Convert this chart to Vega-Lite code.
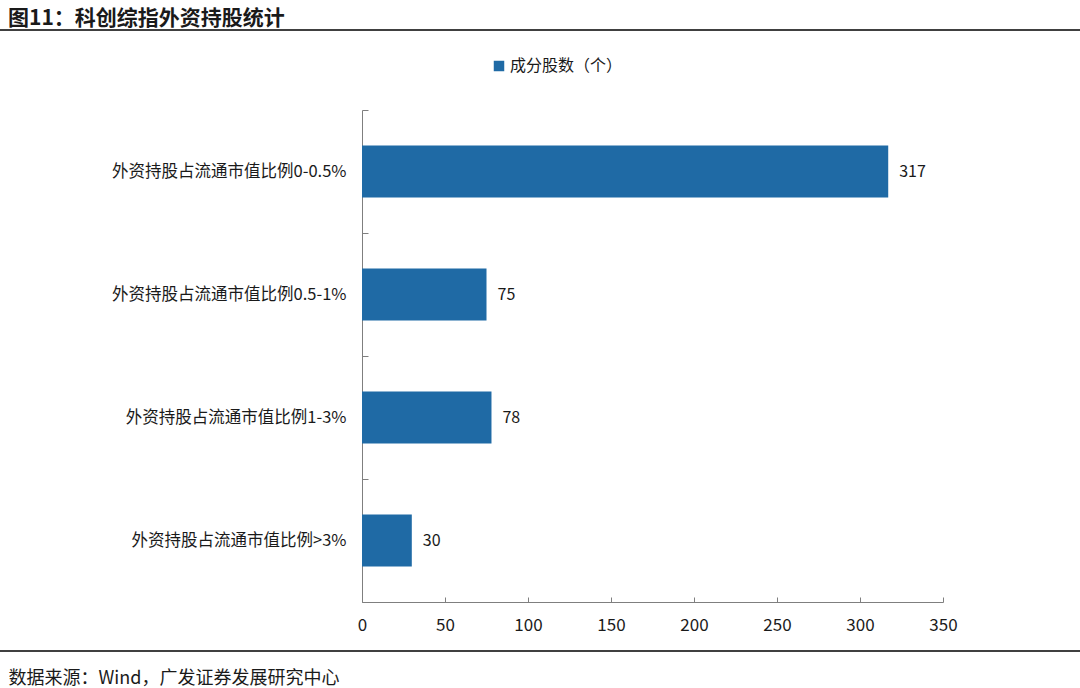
{
  "$schema": "https://vega.github.io/schema/vega-lite/v6.json",
  "width": 581,
  "height": 492,
  "autosize": "none",
  "padding": {"left": 362, "top": 110, "right": 137, "bottom": 86},
  "background": "#ffffff",
  "config": {"view": {"stroke": null}, "font": "Noto Sans CJK SC"},
  "title": {
    "text": "图11：科创综指外资持股统计",
    "anchor": "start",
    "frame": "group",
    "orient": "top",
    "dx": -354,
    "dy": 0,
    "offset": 0,
    "fontSize": 21,
    "fontWeight": "bold",
    "color": "#1a1a1a",
    "font": "Noto Sans CJK SC"
  },
  "data": {
    "values": [
      {"category": "外资持股占流通市值比例0-0.5%", "count": 317, "series": "成分股数（个）"},
      {"category": "外资持股占流通市值比例0.5-1%", "count": 75, "series": "成分股数（个）"},
      {"category": "外资持股占流通市值比例1-3%", "count": 78, "series": "成分股数（个）"},
      {"category": "外资持股占流通市值比例>3%", "count": 30, "series": "成分股数（个）"}
    ]
  },
  "layer": [
    {
      "mark": {"type": "bar", "color": "#1f6aa5", "height": {"band": 0.423}},
      "encoding": {
        "y": {
          "field": "category",
          "type": "nominal",
          "sort": null,
          "scale": {"paddingInner": 0, "paddingOuter": 0},
          "axis": {
            "title": null,
            "tickBand": "extent",
            "tickSize": -6,
            "tickColor": "#7f7f7f",
            "domainColor": "#7f7f7f",
            "labelPadding": 22,
            "labelLimit": 0,
            "labelFontSize": 16.5,
            "labelColor": "#1a1a1a",
            "labelFont": "Noto Sans CJK SC"
          }
        },
        "x": {
          "field": "count",
          "type": "quantitative",
          "scale": {"domain": [0, 350], "nice": false},
          "axis": {
            "values": [0, 50, 100, 150, 200, 250, 300, 350],
            "grid": false,
            "tickSize": -5,
            "tickColor": "#7f7f7f",
            "domainColor": "#7f7f7f",
            "labelFlush": false,
            "labelPadding": 20,
            "labelFontSize": 17,
            "labelColor": "#1a1a1a",
            "labelFont": "Noto Sans CJK SC",
            "title": "数据来源：Wind，广发证券发展研究中心",
            "titleFontSize": 18,
            "titleFontWeight": "normal",
            "titleColor": "#1a1a1a",
            "titleFont": "Noto Sans CJK SC",
            "titleAlign": "left",
            "titleAnchor": "start",
            "titleBaseline": "middle",
            "titleX": -354,
            "titleY": 76
          }
        },
        "color": {
          "field": "series",
          "type": "nominal",
          "scale": {"range": ["#1f6aa5"]},
          "legend": {
            "title": null,
            "orient": "none",
            "legendX": 129,
            "legendY": -52,
            "symbolType": "square",
            "symbolSize": 110,
            "labelFontSize": 16,
            "labelColor": "#1a1a1a",
            "labelFont": "Noto Sans CJK SC",
            "labelOffset": 3
          }
        }
      }
    },
    {
      "mark": {"type": "text", "align": "left", "baseline": "middle", "dx": 11, "fontSize": 16, "color": "#1a1a1a", "font": "Noto Sans CJK SC"},
      "encoding": {
        "y": {"field": "category", "type": "nominal", "sort": null},
        "x": {"field": "count", "type": "quantitative"},
        "text": {"field": "count", "type": "quantitative"}
      }
    },
    {
      "mark": {"type": "rule", "color": "#404040", "strokeWidth": 2, "clip": false},
      "encoding": {
        "x": {"value": -362},
        "x2": {"value": 718},
        "y": {"value": -80}
      }
    },
    {
      "mark": {"type": "rule", "color": "#404040", "strokeWidth": 2, "clip": false},
      "encoding": {
        "x": {"value": -362},
        "x2": {"value": 718},
        "y": {"value": 541}
      }
    }
  ]
}
